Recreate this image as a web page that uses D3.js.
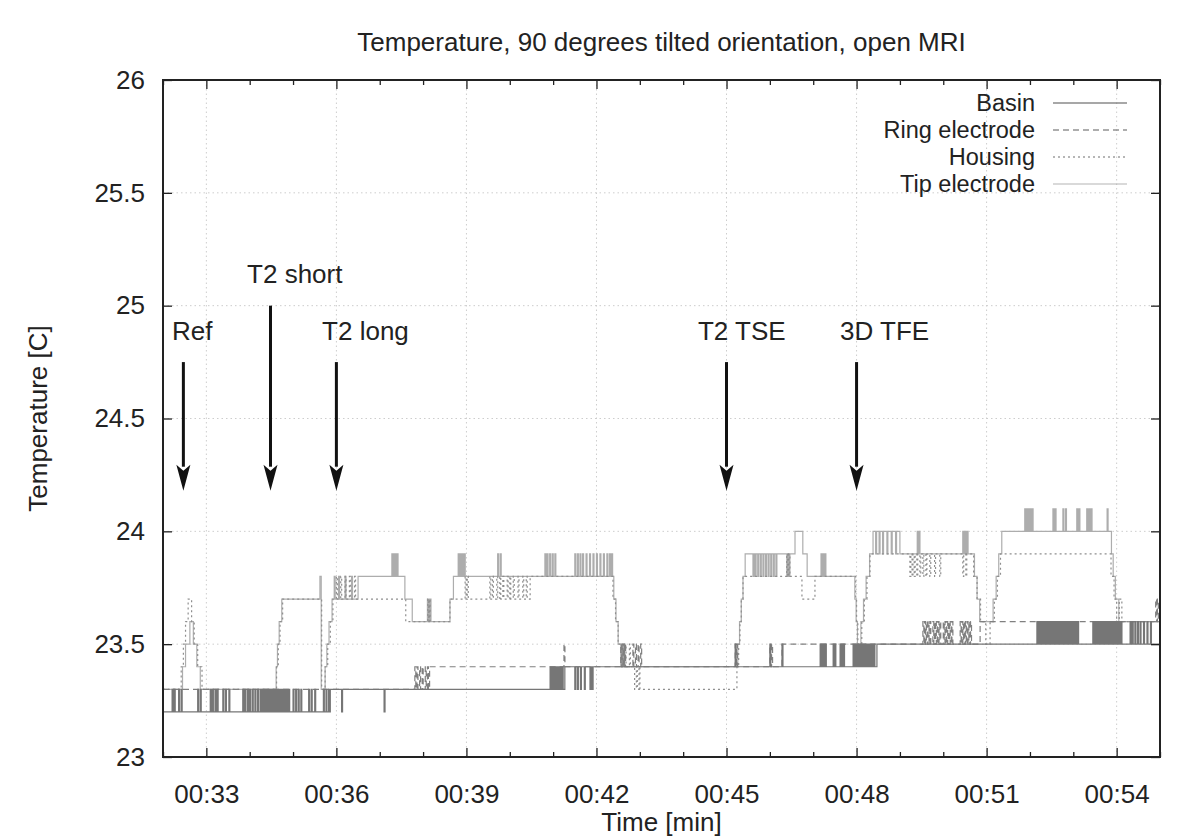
<!DOCTYPE html>
<html><head><meta charset="utf-8">
<script src="https://cdn.jsdelivr.net/npm/d3@7"></script>
<style>body{margin:0;background:#fff}</style>
</head><body>
<svg id="c" width="1200" height="840"></svg>
<script>
// ---------------- DATA ----------------
const chartTitle = "Temperature, 90 degrees tilted orientation, open MRI";
const xLabel = "Time [min]";
const yLabel = "Temperature [C]";
const xDomain = [32, 55];
const yDomain = [23, 26];
const xTickValues = [33, 36, 39, 42, 45, 48, 51, 54];
const xTickLabels = ["00:33","00:36","00:39","00:42","00:45","00:48","00:51","00:54"];
const yTickValues = [23, 23.5, 24, 24.5, 25, 25.5, 26];
const yTickLabels = ["23","23.5","24","24.5","25","25.5","26"];
const seriesNames = ["Basin","Ring electrode","Housing","Tip electrode"];

// sample duration of a one-reading excursion (min)
const sampleDt = 0.022;

// Basin: level changes [time(min), °C] and one-reading excursions [time, °C]
const basinSteps = [[32.00,23.2],[35.86,23.3],[41.27,23.4],[48.47,23.5]];
const basinBlips = [
 [32.21,23.3],[32.26,23.3],[32.36,23.3],[32.42,23.3],[32.80,23.3],[32.86,23.3],
 [33.09,23.3],[33.14,23.3],[33.20,23.3],[33.25,23.3],[33.38,23.3],[33.44,23.3],[33.52,23.3],
 [33.84,23.3],[33.89,23.3],[33.95,23.3],[34.00,23.3],[34.06,23.3],[34.12,23.3],[34.18,23.3],
 [34.24,23.3],[34.28,23.3],[34.32,23.3],[34.36,23.3],[34.40,23.3],[34.44,23.3],[34.48,23.3],
 [34.52,23.3],[34.56,23.3],[34.60,23.3],[34.64,23.3],[34.68,23.3],[34.72,23.3],[34.76,23.3],
 [34.80,23.3],[34.85,23.3],[34.90,23.3],[35.00,23.3],[35.06,23.3],[35.12,23.3],[35.18,23.3],
 [35.36,23.3],[35.42,23.3],[35.50,23.3],[35.70,23.3],[35.76,23.3],[35.82,23.3],
 [36.12,23.2],[37.10,23.2],
 [40.93,23.4],[40.97,23.4],[41.01,23.4],[41.05,23.4],[41.09,23.4],[41.13,23.4],[41.17,23.4],[41.21,23.4],
 [41.50,23.3],[41.56,23.3],[41.63,23.3],[41.72,23.3],[41.85,23.3],[41.90,23.3],
 [45.20,23.5],[46.00,23.5],[46.28,23.5],
 [47.16,23.5],[47.20,23.5],[47.24,23.5],[47.28,23.5],[47.46,23.5],[47.50,23.5],
 [47.62,23.5],[47.66,23.5],[47.70,23.5],[47.92,23.5],[47.96,23.5],[48.00,23.5],[48.04,23.5],
 [48.08,23.5],[48.12,23.5],[48.16,23.5],[48.20,23.5],[48.24,23.5],[48.28,23.5],[48.32,23.5],
 [48.36,23.5],[48.40,23.5],
 [52.16,23.6],[52.20,23.6],[52.24,23.6],[52.28,23.6],[52.33,23.6],[52.38,23.6],[52.43,23.6],
 [52.48,23.6],[52.53,23.6],[52.57,23.6],[52.61,23.6],[52.65,23.6],[52.69,23.6],[52.73,23.6],
 [52.77,23.6],[52.81,23.6],[52.86,23.6],[52.90,23.6],[52.95,23.6],[53.00,23.6],[53.05,23.6],
 [53.10,23.6],[53.45,23.6],[53.49,23.6],[53.53,23.6],[53.57,23.6],[53.61,23.6],[53.65,23.6],
 [53.69,23.6],[53.73,23.6],[53.77,23.6],[53.81,23.6],[53.85,23.6],[53.90,23.6],[53.95,23.6],
 [54.00,23.6],[54.05,23.6],[54.10,23.6],[54.31,23.6],[54.36,23.6],[54.42,23.6],[54.48,23.6],
 [54.54,23.6],[54.62,23.6],[54.70,23.6],[54.78,23.6]
];

const ringSteps = [[32.00,23.3],[38.15,23.4],[46.30,23.5],[50.85,23.6]];
const ringBlips = [
 [37.81,23.4],[37.86,23.4],[37.92,23.4],[37.98,23.4],[38.05,23.4],[38.10,23.4],
 [41.25,23.5],[42.56,23.5],[42.59,23.5],[42.62,23.5],[42.65,23.5],[42.84,23.5],[42.90,23.5],
 [42.96,23.5],[43.02,23.5],[45.20,23.5],[45.23,23.5],[46.00,23.5],[46.04,23.5],[46.28,23.5],
 [49.53,23.6],[49.57,23.6],[49.61,23.6],[49.65,23.6],[49.69,23.6],[49.76,23.6],[49.80,23.6],
 [49.84,23.6],[49.88,23.6],[49.92,23.6],[50.00,23.6],[50.04,23.6],[50.08,23.6],[50.12,23.6],
 [50.16,23.6],[50.20,23.6],[50.39,23.6],[50.43,23.6],[50.47,23.6],[50.51,23.6],[50.55,23.6],
 [50.59,23.6],[50.63,23.6],
 [54.90,23.7],[54.94,23.7]
];

const housingSteps = [
 [32.00,23.3],[32.42,23.4],[32.47,23.5],[32.52,23.6],[32.58,23.7],[32.66,23.6],[32.72,23.5],[32.80,23.4],[32.90,23.3],
 [34.62,23.4],[34.66,23.5],[34.70,23.6],[34.76,23.7],
 [35.66,23.3],[35.74,23.4],[35.80,23.5],[35.86,23.6],[35.92,23.7],
 [37.60,23.6],[38.62,23.7],[40.47,23.8],
 [42.38,23.7],[42.44,23.6],[42.50,23.5],[42.58,23.4],[42.88,23.3],
 [45.24,23.4],[45.28,23.5],[45.31,23.6],[45.34,23.7],[45.38,23.8],
 [46.74,23.7],[47.04,23.8],
 [47.98,23.7],[48.00,23.6],[48.03,23.5],[48.12,23.6],[48.18,23.7],[48.24,23.8],[48.31,23.9],
 [50.70,23.8],[50.78,23.7],[50.86,23.6],[50.98,23.5],[51.08,23.6],[51.18,23.7],[51.25,23.8],[51.32,23.9],
 [53.87,23.8],[53.94,23.7],[54.00,23.6],[54.06,23.7],[54.12,23.6]
];
const housingBlips = [
 [36.00,23.8],[36.10,23.8],[36.20,23.8],[36.30,23.8],[36.42,23.8],
 [38.11,23.7],[38.14,23.7],
 [38.97,23.8],[39.02,23.8],[39.54,23.8],[39.60,23.8],[39.70,23.8],[39.77,23.8],[39.84,23.8],
 [39.94,23.8],[40.00,23.8],[40.08,23.8],[40.19,23.8],[40.30,23.8],[40.38,23.8],
 [42.66,23.5],[42.76,23.5],[42.92,23.4],[42.98,23.4],
 [46.39,23.9],[46.44,23.9],
 [49.23,23.8],[49.28,23.8],[49.33,23.8],[49.39,23.8],[49.46,23.8],[49.53,23.8],[49.60,23.8],
 [49.69,23.8],[49.80,23.8],[49.92,23.8],[50.45,23.8],[50.52,23.8]
];

const tipSteps = [
 [32.00,23.3],[32.45,23.4],[32.52,23.5],[32.62,23.6],[32.70,23.5],[32.78,23.4],[32.86,23.3],
 [34.61,23.4],[34.64,23.5],[34.68,23.6],[34.74,23.7],
 [35.62,23.8],[35.65,23.3],[35.74,23.4],[35.78,23.5],[35.83,23.6],[35.90,23.7],
 [36.50,23.8],[37.58,23.7],[37.75,23.6],[38.62,23.7],[38.70,23.8],
 [42.40,23.7],[42.45,23.6],[42.50,23.5],[42.56,23.4],
 [45.26,23.5],[45.30,23.6],[45.34,23.7],[45.38,23.8],[45.43,23.9],
 [46.58,24.0],[46.76,23.9],[46.86,23.8],
 [47.96,23.7],[47.99,23.6],[48.02,23.5],[48.10,23.6],[48.16,23.7],[48.22,23.8],[48.30,23.9],[48.38,24.0],
 [49.00,23.9],
 [50.72,23.8],[50.78,23.7],[50.84,23.6],[51.15,23.7],[51.22,23.8],[51.28,23.9],[51.35,24.0],
 [53.88,23.9],[53.92,23.8],[53.97,23.7],[54.05,23.6]
];
const tipBlips = [
 [35.95,23.8],[36.05,23.8],[36.20,23.8],[36.35,23.8],
 [37.28,23.9],[37.32,23.9],[37.36,23.9],[37.40,23.9],
 [38.10,23.7],[38.13,23.7],[38.16,23.7],
 [38.81,23.9],[38.85,23.9],[38.90,23.9],[38.95,23.9],[39.72,23.9],[39.78,23.9],
 [40.81,23.9],[40.86,23.9],[40.92,23.9],[40.98,23.9],[41.04,23.9],
 [41.50,23.9],[41.56,23.9],[41.62,23.9],[41.68,23.9],[41.76,23.9],[41.84,23.9],[41.92,23.9],
 [42.00,23.9],[42.08,23.9],[42.16,23.9],[42.24,23.9],[42.30,23.9],[42.35,23.9],
 [42.58,23.5],[42.62,23.5],
 [45.61,23.8],[45.66,23.8],[45.72,23.8],[45.78,23.8],[45.84,23.8],[45.90,23.8],[45.96,23.8],
 [46.02,23.8],[46.08,23.8],[46.14,23.8],[46.39,23.8],[46.44,23.8],
 [47.18,23.9],[47.22,23.9],[47.27,23.9],
 [48.44,23.9],[48.52,23.9],[48.60,23.9],[48.70,23.9],[48.80,23.9],[48.90,23.9],
 [49.40,24.0],[49.44,24.0],[50.45,24.0],[50.50,24.0],[50.55,24.0],
 [51.88,24.1],[51.92,24.1],[51.96,24.1],[52.00,24.1],[52.05,24.1],[52.53,24.1],[52.58,24.1],
 [52.76,24.1],[52.82,24.1],[53.08,24.1],[53.13,24.1],[53.31,24.1],[53.36,24.1],[53.41,24.1],[53.78,24.1]
];

// Annotation arrows
const annotLabels = ["Ref","T2 short","T2 long","T2 TSE","3D TFE"];
const annotTimes = [32.47, 34.48, 36.0, 45.0, 48.0];
const annotFrom = [24.75, 25.0, 24.75, 24.75, 24.75];
const annotTo = [24.18, 24.18, 24.18, 24.18, 24.18];
const annotLabelTimes = [32.21, 33.94, 35.67, 44.34, 47.62];
const annotLabelValues = [24.85, 25.10, 24.85, 24.85, 24.85];

// ---------------- CHART ----------------
const FONT = "'Liberation Sans', Arial, Helvetica, sans-serif";
const FS = 26;
const M = {l:163, r:1160, t:80, b:757};
const svg = d3.select("#c");
const x = d3.scaleLinear().domain(xDomain).range([M.l, M.r]);
const y = d3.scaleLinear().domain(yDomain).range([M.b, M.t]);

// grid
const grid = svg.append("g").attr("stroke","#cdcdcd").attr("stroke-width",1).attr("stroke-dasharray","1.5,3");
grid.selectAll("line.gx").data(xTickValues).join("line")
  .attr("x1",d=>x(d)).attr("x2",d=>x(d)).attr("y1",M.t).attr("y2",M.b);
grid.selectAll("line.gy").data(yTickValues.filter(v=>v>yDomain[0]&&v<yDomain[1])).join("line")
  .attr("y1",d=>y(d)).attr("y2",d=>y(d)).attr("x1",M.l).attr("x2",M.r);

// series
svg.append("clipPath").attr("id","clip").append("rect")
  .attr("x",M.l).attr("y",M.t).attr("width",M.r-M.l).attr("height",M.b-M.t);

function buildSeries(steps, blips){
  const levelAt = t => { let v = steps[0][1]; for (const s of steps){ if (s[0] <= t + 1e-9) v = s[1]; else break; } return v; };
  const pts = steps.map(d=>({t:d[0], v:d[1]}));
  blips.forEach(b=>{ pts.push({t:b[0], v:b[1]}); pts.push({t:b[0]+sampleDt, v:levelAt(b[0]+sampleDt)}); });
  pts.sort((a,b)=>a.t-b.t);
  pts.push({t:xDomain[1], v:steps[steps.length-1][1]});
  return pts;
}
const styles = [
  {color:"#767676", dash:null},
  {color:"#808080", dash:"6,4"},
  {color:"#8e8e8e", dash:"2,3"},
  {color:"#adadad", dash:null}
];
const seriesData = [
  buildSeries(basinSteps, basinBlips),
  buildSeries(ringSteps, ringBlips),
  buildSeries(housingSteps, housingBlips),
  buildSeries(tipSteps, tipBlips)
];
const line = d3.line().x(d=>x(d.t)).y(d=>y(d.v)).curve(d3.curveStepAfter);
const sg = svg.append("g").attr("clip-path","url(#clip)");
[3,2,1,0].forEach(i=>{
  sg.append("path").datum(seriesData[i]).attr("d",line)
    .attr("fill","none").attr("stroke",styles[i].color).attr("stroke-width",1.2)
    .attr("stroke-dasharray",styles[i].dash);
});

// axes
function styleAxis(g){ g.select(".domain").remove(); g.attr("font-size",FS).attr("font-family",FONT).attr("color","#222"); g.selectAll("line").attr("stroke-width",1.3); }
const xMinor = d3.range(xDomain[0], xDomain[1]+1, 1).filter(v=>!xTickValues.includes(v));
svg.append("g").attr("transform",`translate(0,${M.b})`)
  .call(d3.axisBottom(x).tickValues(xTickValues).tickFormat((d,i)=>xTickLabels[i]).tickSizeInner(-9).tickSizeOuter(0).tickPadding(28)).call(styleAxis);
svg.append("g").attr("transform",`translate(0,${M.b})`)
  .call(d3.axisBottom(x).tickValues(xMinor).tickFormat("").tickSizeInner(-5).tickSizeOuter(0)).call(styleAxis);
svg.append("g").attr("transform",`translate(0,${M.t})`)
  .call(d3.axisTop(x).tickValues(xTickValues).tickFormat("").tickSizeInner(-9).tickSizeOuter(0)).call(styleAxis);
svg.append("g").attr("transform",`translate(0,${M.t})`)
  .call(d3.axisTop(x).tickValues(xMinor).tickFormat("").tickSizeInner(-5).tickSizeOuter(0)).call(styleAxis);
svg.append("g").attr("transform",`translate(${M.l},0)`)
  .call(d3.axisLeft(y).tickValues(yTickValues).tickFormat((d,i)=>yTickLabels[i]).tickSizeInner(-9).tickSizeOuter(0).tickPadding(18)).call(styleAxis);
svg.append("g").attr("transform",`translate(${M.r},0)`)
  .call(d3.axisRight(y).tickValues(yTickValues).tickFormat("").tickSizeInner(-9).tickSizeOuter(0)).call(styleAxis);

// border
svg.append("rect").attr("x",M.l).attr("y",M.t).attr("width",M.r-M.l).attr("height",M.b-M.t)
  .attr("fill","none").attr("stroke","#222").attr("stroke-width",2);

// texts
const txt = (s, fs)=>svg.append("text").attr("font-family",FONT).attr("font-size",fs||FS).attr("fill","#222").text(s);
txt(chartTitle).attr("x",(M.l+M.r)/2).attr("y",51).attr("text-anchor","middle");
txt(xLabel).attr("x",(M.l+M.r)/2).attr("y",831).attr("text-anchor","middle");
txt(yLabel).attr("transform",`translate(47,${(M.t+M.b)/2}) rotate(-90)`).attr("text-anchor","middle");

// legend
seriesNames.forEach((n,i)=>{
  const cy = 103 + i*27;
  txt(n, 23.5).attr("x",1035).attr("y",cy+8).attr("text-anchor","end");
  svg.append("line").attr("x1",1053).attr("x2",1127).attr("y1",cy).attr("y2",cy)
    .attr("stroke",styles[i].color).attr("stroke-width",1.3).attr("stroke-dasharray",styles[i].dash)
    .attr("opacity", i===3?0.6:0.85);
});

// annotations
annotLabels.forEach((lab,i)=>{
  const ax = x(annotTimes[i]), y0 = y(annotFrom[i]), y1 = y(annotTo[i]);
  const headL = 26, headW = 7;
  svg.append("line").attr("x1",ax).attr("x2",ax).attr("y1",y0).attr("y2",y1-headL+2)
    .attr("stroke","#111").attr("stroke-width",3);
  svg.append("path").attr("d",`M${ax},${y1} L${ax-headW},${y1-headL} L${ax},${y1-headL+6} L${ax+headW},${y1-headL} Z`)
    .attr("fill","#111");
  txt(lab).attr("x",x(annotLabelTimes[i])).attr("y",y(annotLabelValues[i]));
});
</script>
</body></html>
